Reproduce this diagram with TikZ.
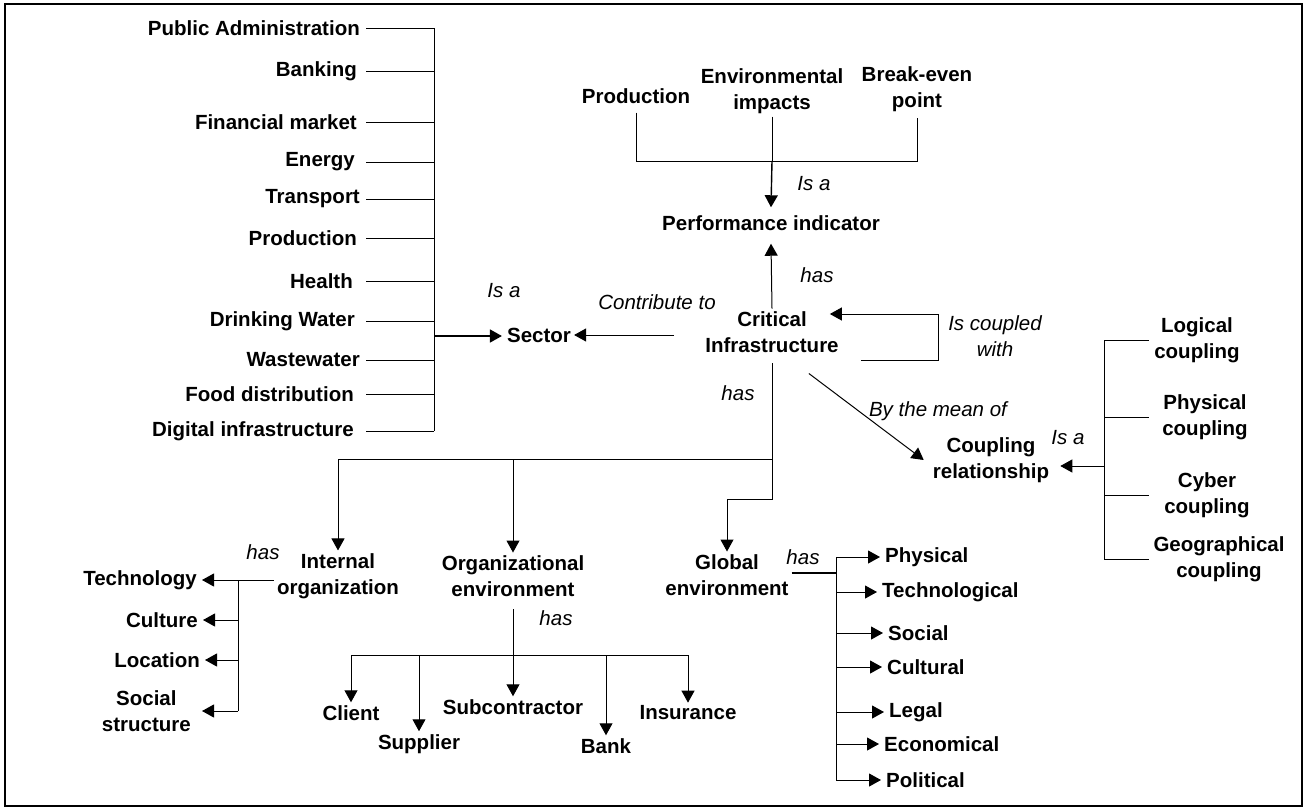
\documentclass[tikz,border=0pt]{standalone}
\usepackage{fontspec}
\setmainfont{Liberation Sans}
\usetikzlibrary{arrows.meta}

\begin{document}
\begin{tikzpicture}[x=1pt,y=-1pt,
  lbl/.style={font=\bfseries\fontsize{20.5}{25.5}\selectfont,align=center,inner sep=3pt},
  rel/.style={font=\itshape\fontsize{20.5}{25.5}\selectfont,align=center,inner sep=0pt},
  link/.style={line width=1pt},
  arr/.style={link,-{Triangle[length=12pt,width=13pt]}}]
\useasboundingbox (0,0) rectangle (1306,809);
\draw [line width=2pt] (5,4) rectangle (1302,806);
\node [lbl,anchor=east] (pubadm) at (363,28) {Public Administration};
\node [lbl,anchor=east] (banking) at (360,71) {Banking};
\node [lbl,anchor=east] (finmkt) at (360,122) {Financial market};
\node [lbl,anchor=east] (energy) at (358,162) {Energy};
\node [lbl,anchor=east] (transport) at (363,199) {Transport};
\node [lbl,anchor=east] (prodsec) at (360,238) {Production};
\node [lbl,anchor=east] (health) at (356,281) {Health};
\node [lbl,anchor=east] (water) at (358,321) {Drinking Water};
\node [lbl,anchor=east] (wastewater) at (363,360) {Wastewater};
\node [lbl,anchor=east] (food) at (357,394) {Food distribution};
\node [lbl,anchor=east] (digital) at (357,431) {Digital infrastructure};
\coordinate (sectorJ) at (434,336);
\coordinate (sectorL) at (366,336);
\foreach \s in {pubadm,banking,finmkt,energy,transport,prodsec,health,water,wastewater,food,digital}
  \draw [link] (\s.east -| sectorL) -- (\s.east -| sectorJ);
\draw [link] (pubadm.east -| sectorJ) -- (digital.east -| sectorJ);
\node [lbl] (sector) at (539,335) {Sector};
\draw [arr,line width=1.6pt] (sectorJ) -- ([xshift=-2pt]sector.west |- sectorJ);
\node [rel] (isasector) at (504,291) {Is a};
\node [lbl] (ci) at (772,332) {Critical\\Infrastructure};
\node [lbl] (perf) at (771,223) {Performance indicator};
\node [lbl] (prodind) at (636,96) {Production};
\node [lbl] (envimp) at (772,91) {Environmental\\impacts};
\node [lbl] (breakeven) at (917,89) {Break-even\\point};
\coordinate (topJ) at (772,161);
\draw [link] ([yshift=-6pt]prodind.south) -- (prodind.south |- topJ) -- (breakeven.south |- topJ) -- ([yshift=-3pt]breakeven.south);
\draw [link] (envimp.south) -- (topJ);
\draw [arr,line width=1.4pt] (topJ) -- ([yshift=5pt]perf.north);
\node [rel] (isaperf) at (814,184) {Is a};
\draw [arr] (ci.north) -- ([yshift=-10pt]perf.south);
\node [rel] (hasperf) at (817,275) {has};
\draw [arr] ([xshift=-28pt]ci.west |- sector.east) -- (sector.east);
\node [rel] (contrib) at (657,302) {Contribute to};
\coordinate (loopR) at (938,314);
\draw [arr] ([xshift=19pt,yshift=-28pt]ci.east) -| (loopR) -- ([xshift=-12pt,yshift=18pt]ci.east);
\node [rel] (coupled) at (995,336) {Is coupled\\with};
\node [lbl] (cpl) at (991,460) {Coupling\\relationship};
\draw [arr] ([xshift=-33pt,yshift=-18pt]ci.south east) -- ([xshift=-6pt]cpl.west);
\node [rel] (bymean) at (938,411) {By the mean of};
\node [lbl] (logical) at (1197,340) {Logical\\coupling};
\node [lbl] (physcpl) at (1205,417) {Physical\\coupling};
\node [lbl] (cyber) at (1207,495) {Cyber\\coupling};
\node [lbl] (geo) at (1219,559) {Geographical\\coupling};
\coordinate (cplJ) at (1104,466);
\coordinate (cplE) at (1149,466);
\foreach \s in {logical,physcpl,cyber,geo}
  \draw [link] (\s.west -| cplJ) -- (\s.west -| cplE);
\draw [link] (logical.west -| cplJ) -- (geo.west -| cplJ);
\draw [arr] (cplJ) -- ([xshift=8pt]cpl.east |- cplJ);
\node [rel] (isacpl) at (1068,438) {Is a};
\node [lbl] (intorg) at (338,576) {Internal\\organization};
\node [lbl] (orgenv) at (513,576) {Organizational\\environment};
\node [lbl] (globenv) at (727,575) {Global\\environment};
\coordinate (ciJ) at (772,459);
\draw [link] ([yshift=-8pt]ci.south) -- (ciJ) -- (intorg.north |- ciJ);
\draw [arr] (intorg.north |- ciJ) -- (intorg.north);
\draw [arr] (orgenv.north |- ciJ) -- (orgenv.north);
\draw [arr] (ciJ) -- ++(0,40) -| (globenv.north);
\node [rel] (hasci) at (738,393) {has};
\node [lbl,anchor=east] (tech) at (200,580) {Technology};
\node [lbl,anchor=east] (culture) at (201,620) {Culture};
\node [lbl,anchor=east] (location) at (203,660) {Location};
\node [lbl,anchor=east] (social) at (194,711) {Social\\structure};
\coordinate (intJ) at (238,580);
\draw [link] (intorg.west |- intJ) -- (intJ) -- (intJ |- social.east);
\foreach \s in {tech,culture,location}
  \draw [arr] (intJ |- \s.east) -- ([xshift=2pt]\s.east);
\draw [arr] (intJ |- social.east) -- ([xshift=8pt]social.east);
\node [rel] (hasint) at (263,552) {has};
\node [lbl] (client) at (351,713) {Client};
\node [lbl] (supplier) at (419,744) {Supplier};
\node [lbl] (subcon) at (513,707) {Subcontractor};
\node [lbl] (bank) at (606,746) {Bank};
\node [lbl] (insur) at (688,713) {Insurance};
\coordinate (orgJ) at (513,655);
\draw [link] ([yshift=-10pt]orgenv.south) -- (orgJ);
\draw [link] (client.north |- orgJ) -- (insur.north |- orgJ);
\foreach \s in {client,supplier,subcon,bank,insur}
  \draw [arr] (\s.north |- orgJ) -- (\s.north);
\node [rel] (hasorg) at (556,618) {has};
\node [lbl,anchor=west] (physical) at (882,557) {Physical};
\node [lbl,anchor=west] (techno) at (879,592) {Technological};
\node [lbl,anchor=west] (socialenv) at (885,633) {Social};
\node [lbl,anchor=west] (cultural) at (884,667) {Cultural};
\node [lbl,anchor=west] (legal) at (886,712) {Legal};
\node [lbl,anchor=west] (econ) at (881,744) {Economical};
\node [lbl,anchor=west] (political) at (883,780) {Political};
\coordinate (globJ) at (836,573);
\draw [link,line width=1.6pt] (globenv.east |- globJ) -- (globJ);
\draw [link] (globJ |- physical.west) -- (globJ |- political.west);
\foreach \s in {physical,techno,socialenv,cultural,legal,econ,political}
  \draw [arr] (globJ |- \s.west) -- ([xshift=-2pt]\s.west);
\node [rel] (hasglob) at (803,557) {has};
\end{tikzpicture}
\end{document}
